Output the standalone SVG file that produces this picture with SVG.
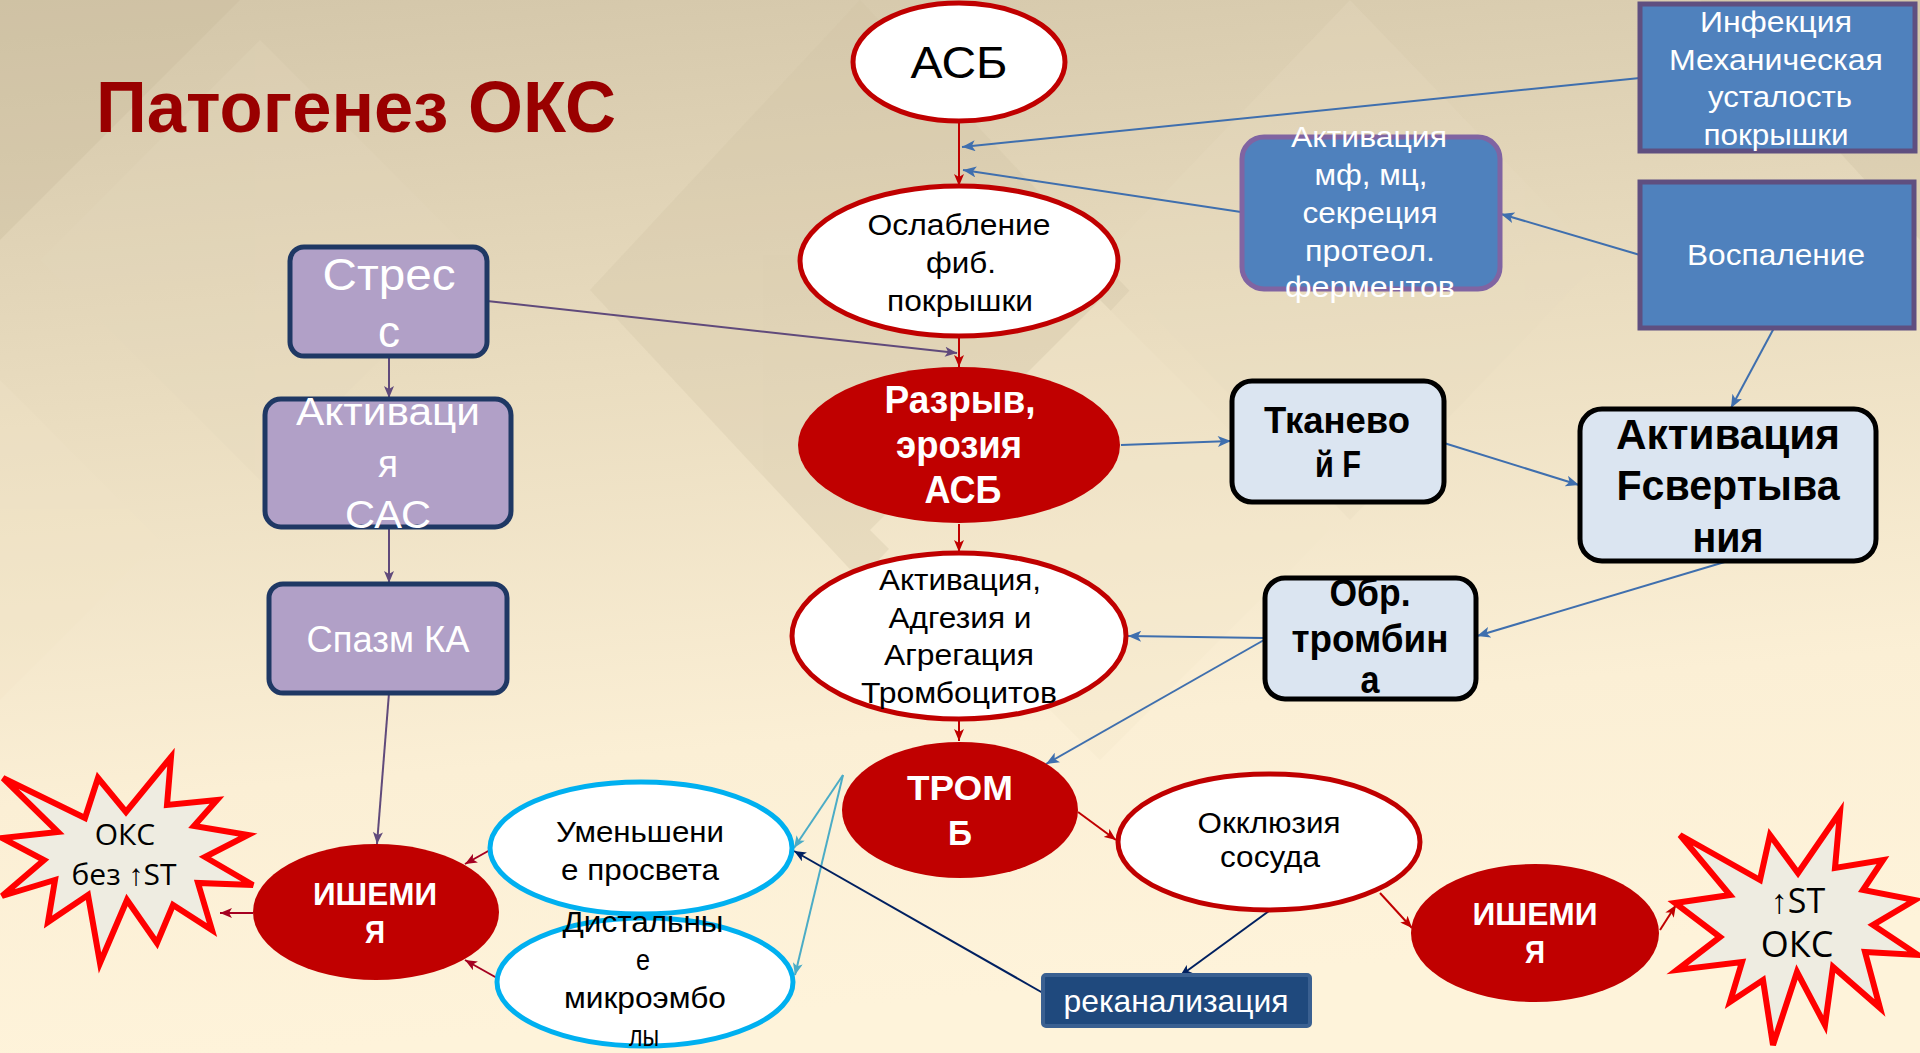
<svg xmlns="http://www.w3.org/2000/svg" width="1920" height="1053" viewBox="0 0 1920 1053" font-size="30">
<defs>
<linearGradient id="bg" x1="0" y1="0" x2="0.15" y2="1">
<stop offset="0" stop-color="#D3C6A9"/>
<stop offset="0.4" stop-color="#EADDC0"/>
<stop offset="0.75" stop-color="#FBEFD5"/>
<stop offset="1" stop-color="#FEF3DA"/>
</linearGradient>
<marker id="mRed" viewBox="0 0 12 10" refX="12" refY="5" markerWidth="12" markerHeight="10" markerUnits="userSpaceOnUse" orient="auto"><path d="M0,0 L12,5 L0,10 L3,5 Z" fill="#C00000"/></marker>
<marker id="mDRed" viewBox="0 0 12 10" refX="12" refY="5" markerWidth="12" markerHeight="10" markerUnits="userSpaceOnUse" orient="auto"><path d="M0,0 L12,5 L0,10 L3,5 Z" fill="#A50021"/></marker>
<marker id="mBlue" viewBox="0 0 12 10" refX="12" refY="5" markerWidth="14" markerHeight="11" markerUnits="userSpaceOnUse" orient="auto"><path d="M0,0 L12,5 L0,10 L3,5 Z" fill="#3F6FAE"/></marker>
<marker id="mPurple" viewBox="0 0 12 10" refX="12" refY="5" markerWidth="13" markerHeight="10" markerUnits="userSpaceOnUse" orient="auto"><path d="M0,0 L12,5 L0,10 L3,5 Z" fill="#604A7B"/></marker>
<marker id="mLBlue" viewBox="0 0 12 10" refX="12" refY="5" markerWidth="13" markerHeight="10" markerUnits="userSpaceOnUse" orient="auto"><path d="M0,0 L12,5 L0,10 L3,5 Z" fill="#4BACC6"/></marker>
<marker id="mNavy" viewBox="0 0 12 10" refX="12" refY="5" markerWidth="13" markerHeight="10" markerUnits="userSpaceOnUse" orient="auto"><path d="M0,0 L12,5 L0,10 L3,5 Z" fill="#002060"/></marker>
</defs>
<style>
text{font-family:"Liberation Sans",Arial,sans-serif;text-anchor:middle}
.k{fill:#000}
.w{fill:#fff}
.b{font-weight:bold}
.st{font-family:"Open Sans","Noto Sans",sans-serif;fill:#000}
.redOut{fill:#fff;stroke:#C00000;stroke-width:5}
.redFill{fill:#C00000;stroke:none}
.cyan{fill:#fff;stroke:#00B0F0;stroke-width:5}
.lav{fill:#B1A0C7;stroke:#1F3864;stroke-width:5}
.blueBox{fill:#4F81BD;stroke:#5F4F80;stroke-width:5}
.lblue{fill:#DBE5F1;stroke:#000;stroke-width:5}
.star{fill:#EEECE1;stroke:#FF0000;stroke-width:6;stroke-linejoin:miter}
.c{fill:none;stroke-width:2}
.cr{stroke:#C00000}
.cdr{stroke:#A50021}
.cb{stroke:#3F6FAE}
.cp{stroke:#604A7B}
.clb{stroke:#4BACC6}
.cn{stroke:#002060}
</style>
<rect width="1920" height="1053" fill="url(#bg)"/>
<g opacity="0.3">
<polygon points="0,0 240,0 0,240" fill="#C7B99A"/>
<polygon points="860,0 1130,290 860,580 590,290" fill="#CFC2A4"/>
<polygon points="1350,0 1600,260 1350,520 1100,260" fill="#E8DCC0"/>
<polygon points="260,40 480,260 260,480 40,260" fill="#E4D8BC"/>
<polygon points="1700,0 1920,0 1920,240" fill="#C9BC9E"/>
<polygon points="1100,300 1330,530 1100,760 870,530" fill="#F3E7CB"/>
<polygon points="0,380 160,540 0,700" fill="#F1E4C8"/>
</g>

<text x="356" y="132" fill="#990000" font-size="72" font-weight="bold" textLength="520" lengthAdjust="spacingAndGlyphs">Патогенез ОКС</text>

<g id="connectors">
<line class="c cr" x1="959" y1="122" x2="959" y2="186" marker-end="url(#mRed)"/>
<line class="c cr" x1="959" y1="337" x2="959" y2="367" marker-end="url(#mRed)"/>
<line class="c cr" x1="959" y1="524" x2="959" y2="552" marker-end="url(#mRed)"/>
<line class="c cr" x1="959" y1="719" x2="959" y2="741" marker-end="url(#mRed)"/>
<line class="c cb" x1="1640" y1="78" x2="962" y2="147" marker-end="url(#mBlue)"/>
<line class="c cb" x1="1241" y1="212" x2="963" y2="170" marker-end="url(#mBlue)"/>
<line class="c cb" x1="1640" y1="255" x2="1501" y2="214" marker-end="url(#mBlue)"/>
<line class="c cb" x1="1774" y1="328" x2="1731" y2="408" marker-end="url(#mBlue)"/>
<line class="c cp" x1="487" y1="301" x2="957" y2="353" marker-end="url(#mPurple)"/>
<line class="c cp" x1="389" y1="357" x2="389" y2="398" marker-end="url(#mPurple)"/>
<line class="c cp" x1="389" y1="527" x2="389" y2="583" marker-end="url(#mPurple)"/>
<line class="c cp" x1="389" y1="693" x2="377" y2="844" marker-end="url(#mPurple)"/>
<line class="c cb" x1="1121" y1="445" x2="1231" y2="441" marker-end="url(#mBlue)"/>
<line class="c cb" x1="1444" y1="443" x2="1579" y2="485" marker-end="url(#mBlue)"/>
<line class="c cb" x1="1728" y1="561" x2="1477" y2="636" marker-end="url(#mBlue)"/>
<line class="c cb" x1="1264" y1="638" x2="1128" y2="636" marker-end="url(#mBlue)"/>
<line class="c cb" x1="1264" y1="640" x2="1046" y2="764" marker-end="url(#mBlue)"/>
<line class="c cr" x1="1078" y1="812" x2="1116" y2="840" marker-end="url(#mRed)"/>
<line class="c clb" x1="843" y1="775" x2="794" y2="848" marker-end="url(#mLBlue)"/>
<line class="c clb" x1="843" y1="775" x2="795" y2="975" marker-end="url(#mLBlue)"/>
<line class="c cn" x1="1269" y1="911" x2="1180" y2="976" marker-end="url(#mNavy)"/>
<line class="c cn" x1="1043" y1="993" x2="794" y2="851" marker-end="url(#mNavy)"/>
<line class="c cr" x1="1380" y1="893" x2="1412" y2="928" marker-end="url(#mRed)"/>
<line class="c cr" x1="1660" y1="930" x2="1676" y2="905" marker-end="url(#mRed)"/>
<line class="c cdr" x1="490" y1="850" x2="465" y2="864" marker-end="url(#mDRed)"/>
<line class="c cdr" x1="497" y1="978" x2="465" y2="960" marker-end="url(#mDRed)"/>
<line class="c cdr" x1="253" y1="913" x2="220" y2="913" marker-end="url(#mDRed)"/>
</g>

<g id="asb">
<ellipse class="redOut" cx="959" cy="62" rx="106" ry="59"/>
<text class="k" x="959" y="78" font-size="44" textLength="97" lengthAdjust="spacingAndGlyphs">АСБ</text>
</g>

<g id="oslablenie">
<ellipse class="redOut" cx="959" cy="261" rx="159" ry="75"/>
<text class="k" x="959" y="235" textLength="183" lengthAdjust="spacingAndGlyphs">Ослабление</text>
<text class="k" x="961" y="273" textLength="70" lengthAdjust="spacingAndGlyphs">фиб.</text>
<text class="k" x="960" y="311" textLength="146" lengthAdjust="spacingAndGlyphs">покрышки</text>
</g>

<g id="razryv">
<ellipse class="redFill" cx="959" cy="445" rx="161" ry="78"/>
<text class="w b" x="960" y="413" font-size="38" textLength="151" lengthAdjust="spacingAndGlyphs">Разрыв,</text>
<text class="w b" x="959" y="458" font-size="38" textLength="126" lengthAdjust="spacingAndGlyphs">эрозия</text>
<text class="w b" x="963" y="503" font-size="38" textLength="77" lengthAdjust="spacingAndGlyphs">АСБ</text>
</g>

<g id="trombocity">
<ellipse class="redOut" cx="959" cy="636" rx="167" ry="83"/>
<text class="k" x="960" y="590" textLength="162" lengthAdjust="spacingAndGlyphs">Активация,</text>
<text class="k" x="960" y="628" textLength="143" lengthAdjust="spacingAndGlyphs">Адгезия и</text>
<text class="k" x="959" y="665" textLength="150" lengthAdjust="spacingAndGlyphs">Агрегация</text>
<text class="k" x="959" y="703" textLength="196" lengthAdjust="spacingAndGlyphs">Тромбоцитов</text>
</g>

<g id="tromb">
<ellipse class="redFill" cx="960" cy="810" rx="118" ry="68"/>
<text class="w b" x="960" y="800" font-size="35" textLength="106" lengthAdjust="spacingAndGlyphs">ТРОМ</text>
<text class="w b" x="960" y="845" font-size="35" textLength="24" lengthAdjust="spacingAndGlyphs">Б</text>
</g>

<g id="okkluziya">
<ellipse class="redOut" cx="1269" cy="842" rx="151" ry="68"/>
<text class="k" x="1269" y="833" textLength="143" lengthAdjust="spacingAndGlyphs">Окклюзия</text>
<text class="k" x="1270" y="867" textLength="100" lengthAdjust="spacingAndGlyphs">сосуда</text>
</g>

<g id="ishemiya-right">
<ellipse class="redFill" cx="1535" cy="933" rx="124" ry="69"/>
<text class="w b" x="1535" y="925" font-size="32" textLength="125" lengthAdjust="spacingAndGlyphs">ИШЕМИ</text>
<text class="w b" x="1535" y="963" font-size="32" textLength="20" lengthAdjust="spacingAndGlyphs">Я</text>
</g>

<g id="oks-st">
<polygon class="star" points="1680,835 1760,880 1770,835 1798,873 1840,812 1835,868 1883,860 1863,890 1915,900 1873,925 1918,955 1865,952 1880,1008 1833,967 1825,1025 1797,972 1773,1045 1763,980 1730,1002 1742,962 1677,970 1720,937 1675,903 1730,895"/>
<text class="st" x="1798" y="913" font-size="34">↑ST</text>
<text class="st" x="1797" y="957" font-size="36">ОКС</text>
</g>

<g id="rekanalizaciya">
<rect x="1043" y="975" width="267" height="51" rx="3" fill="#1F497D" stroke="#3A6091" stroke-width="4"/>
<text class="w" x="1176" y="1012" font-size="32" textLength="225" lengthAdjust="spacingAndGlyphs">реканализация</text>
</g>

<g id="umenshenie">
<ellipse class="cyan" cx="641" cy="848" rx="151" ry="66"/>
<text class="k" x="640" y="842" textLength="168" lengthAdjust="spacingAndGlyphs">Уменьшени</text>
<text class="k" x="640" y="880" textLength="158" lengthAdjust="spacingAndGlyphs">е просвета</text>
</g>

<g id="distalnye">
<ellipse class="cyan" cx="645" cy="982" rx="148" ry="64"/>
<text class="k" x="643" y="932" textLength="161" lengthAdjust="spacingAndGlyphs">Дистальны</text>
<text class="k" x="643" y="970" textLength="14" lengthAdjust="spacingAndGlyphs">е</text>
<text class="k" x="645" y="1008" textLength="162" lengthAdjust="spacingAndGlyphs">микроэмбо</text>
<text class="k" x="644" y="1046" textLength="30" lengthAdjust="spacingAndGlyphs">лы</text>
</g>

<g id="ishemiya-left">
<ellipse class="redFill" cx="376" cy="912" rx="123" ry="68"/>
<text class="w b" x="375" y="905" font-size="32" textLength="124" lengthAdjust="spacingAndGlyphs">ИШЕМИ</text>
<text class="w b" x="375" y="943" font-size="32" textLength="20" lengthAdjust="spacingAndGlyphs">Я</text>
</g>

<g id="oks-bez-st">
<polygon class="star" points="3,778 85,818 98,778 126,812 171,757 167,805 217,800 194,826 248,835 205,857 253,885 198,883 212,930 173,905 157,943 127,900 100,963 88,895 48,922 55,880 2,896 44,860 2,838 58,832"/>
<text class="st" x="125" y="845" font-size="30">ОКС</text>
<text class="st" x="124" y="885" font-size="30">без ↑ST</text>
</g>

<g id="stress">
<rect class="lav" x="290" y="247" width="197" height="109" rx="14"/>
<text class="w" x="389" y="290" font-size="45" textLength="133" lengthAdjust="spacingAndGlyphs">Стрес</text>
<text class="w" x="389" y="347" font-size="45" textLength="22" lengthAdjust="spacingAndGlyphs">с</text>
</g>

<g id="aktivaciya-sas">
<rect class="lav" x="265" y="399" width="246" height="128" rx="16"/>
<text class="w" x="388" y="425" font-size="38" textLength="184" lengthAdjust="spacingAndGlyphs">Активаци</text>
<text class="w" x="388" y="477" font-size="38" textLength="20" lengthAdjust="spacingAndGlyphs">я</text>
<text class="w" x="388" y="528" font-size="38" textLength="86" lengthAdjust="spacingAndGlyphs">САС</text>
</g>

<g id="spazm">
<rect class="lav" x="269" y="584" width="238" height="109" rx="14"/>
<text class="w" x="388" y="652" font-size="36" textLength="163" lengthAdjust="spacingAndGlyphs">Спазм КА</text>
</g>

<g id="infekciya">
<rect class="blueBox" x="1640" y="4" width="275" height="147"/>
<text class="w" x="1776" y="32" textLength="152" lengthAdjust="spacingAndGlyphs">Инфекция</text>
<text class="w" x="1776" y="70" textLength="214" lengthAdjust="spacingAndGlyphs">Механическая</text>
<text class="w" x="1780" y="107" textLength="144" lengthAdjust="spacingAndGlyphs">усталость</text>
<text class="w" x="1776" y="145" textLength="145" lengthAdjust="spacingAndGlyphs">покрышки</text>
</g>

<g id="aktivaciya-mf">
<rect x="1242" y="137" width="258" height="152" rx="22" fill="#4F81BD" stroke="#8064A2" stroke-width="5"/>
<text class="w" x="1369" y="147" textLength="156" lengthAdjust="spacingAndGlyphs">Активация</text>
<text class="w" x="1371" y="185" textLength="113" lengthAdjust="spacingAndGlyphs">мф, мц,</text>
<text class="w" x="1370" y="223" textLength="135" lengthAdjust="spacingAndGlyphs">секреция</text>
<text class="w" x="1370" y="261" textLength="130" lengthAdjust="spacingAndGlyphs">протеол.</text>
<text class="w" x="1370" y="297" textLength="170" lengthAdjust="spacingAndGlyphs">ферментов</text>
</g>

<g id="vospalenie">
<rect class="blueBox" x="1640" y="182" width="274" height="146"/>
<text class="w" x="1776" y="265" textLength="178" lengthAdjust="spacingAndGlyphs">Воспаление</text>
</g>

<g id="tkanevoy">
<rect class="lblue" x="1232" y="381" width="212" height="121" rx="20"/>
<text class="k b" x="1337" y="433" font-size="37" textLength="146" lengthAdjust="spacingAndGlyphs">Тканево</text>
<text class="k b" x="1338" y="477" font-size="37" textLength="46" lengthAdjust="spacingAndGlyphs">й F</text>
</g>

<g id="aktivaciya-f">
<rect class="lblue" x="1580" y="409" width="296" height="152" rx="22"/>
<text class="k b" x="1728" y="449" font-size="43" textLength="224" lengthAdjust="spacingAndGlyphs">Активация</text>
<text class="k b" x="1728" y="500" font-size="43" textLength="223" lengthAdjust="spacingAndGlyphs">Fсвертыва</text>
<text class="k b" x="1728" y="552" font-size="43" textLength="71" lengthAdjust="spacingAndGlyphs">ния</text>
</g>

<g id="obr-trombina">
<rect class="lblue" x="1265" y="578" width="211" height="121" rx="20"/>
<text class="k b" x="1370" y="606" font-size="38" textLength="81" lengthAdjust="spacingAndGlyphs">Обр.</text>
<text class="k b" x="1370" y="652" font-size="38" textLength="157" lengthAdjust="spacingAndGlyphs">тромбин</text>
<text class="k b" x="1370" y="693" font-size="38" textLength="19" lengthAdjust="spacingAndGlyphs">а</text>
</g>
</svg>
